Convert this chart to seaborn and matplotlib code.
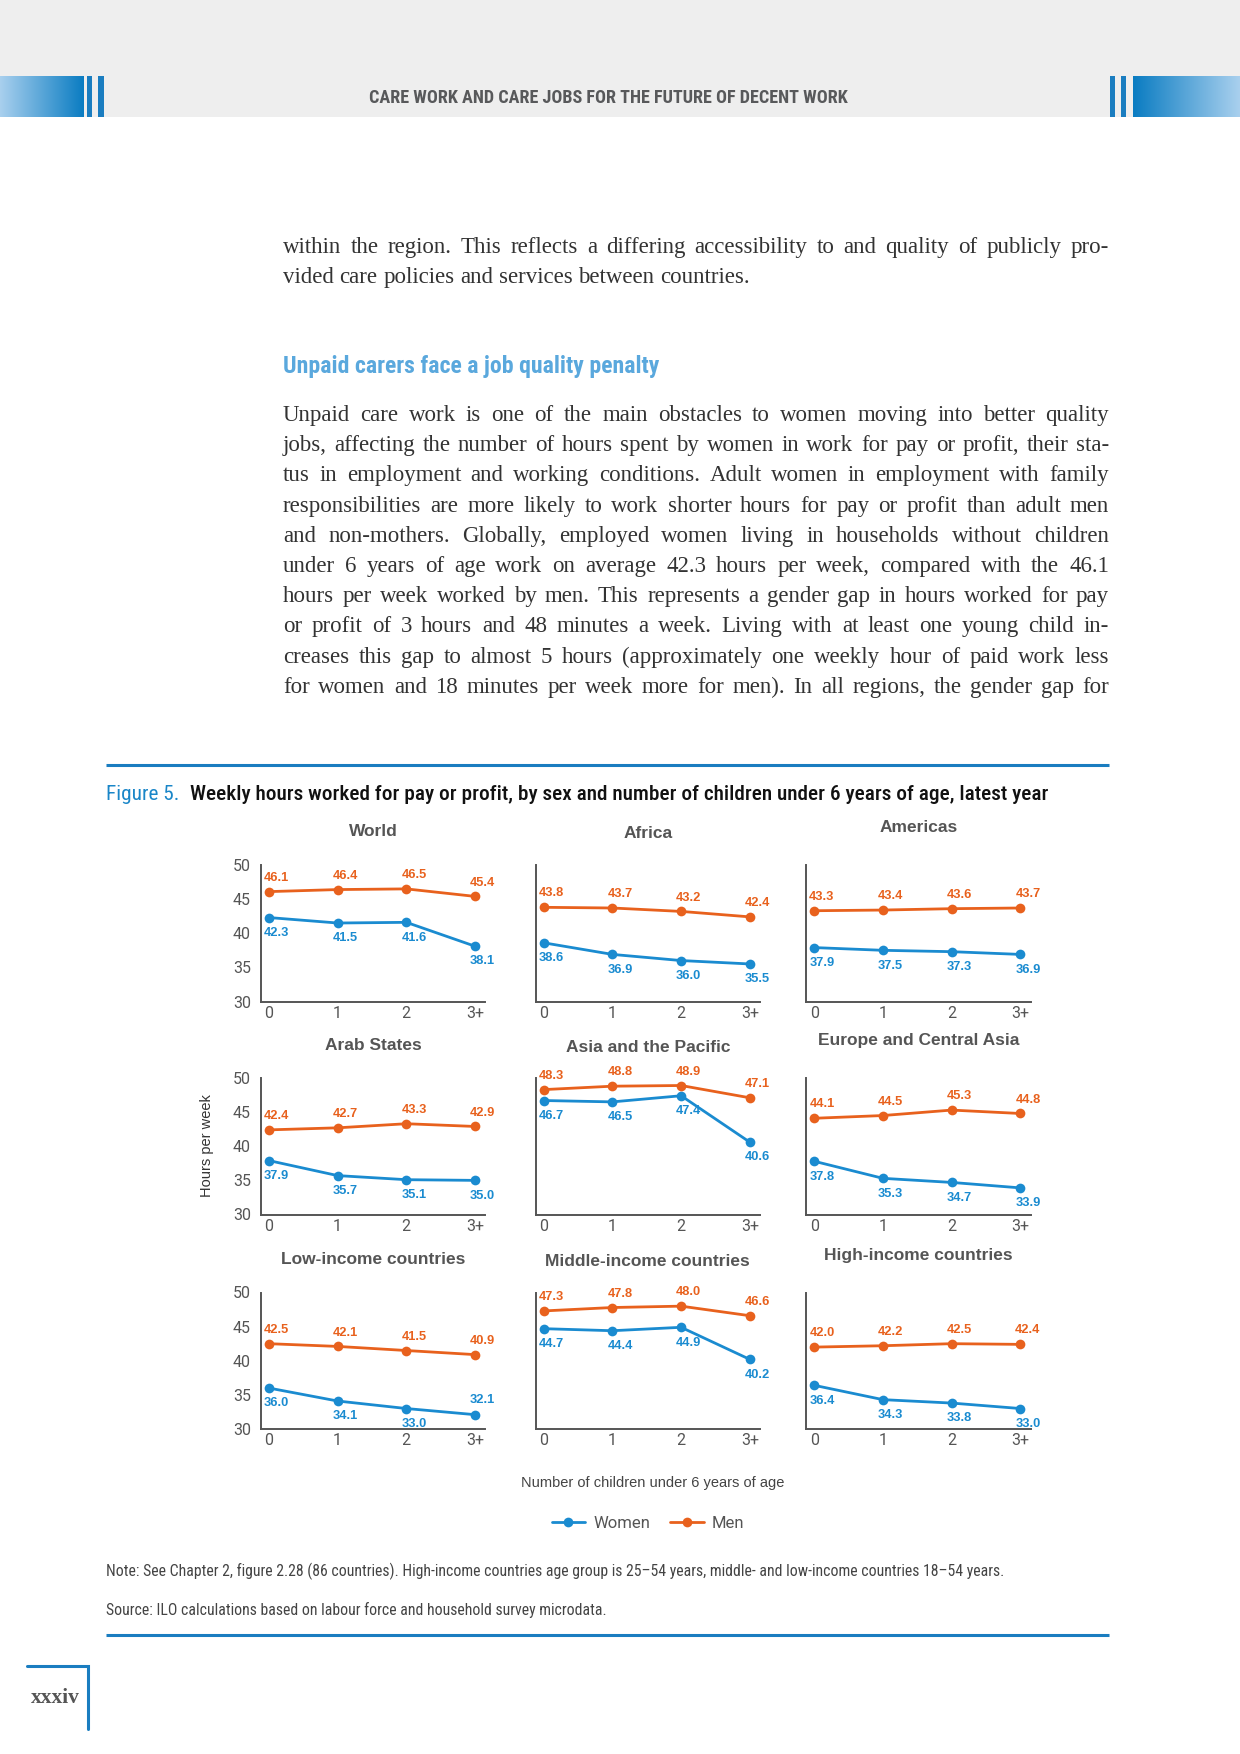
import matplotlib
matplotlib.use("Agg")
import numpy as np
import pandas as pd
import matplotlib.pyplot as plt
from matplotlib import font_manager
from matplotlib.colors import LinearSegmentedColormap
from matplotlib.lines import Line2D
import seaborn as sns

# --- chart data ---
children = ["0", "1", "2", "3+"]
regions = ["World", "Africa", "Americas",
           "Arab States", "Asia and the Pacific", "Europe and Central Asia",
           "Low-income countries", "Middle-income countries", "High-income countries"]
women_hours = [[42.3, 41.5, 41.6, 38.1],
               [38.6, 36.9, 36.0, 35.5],
               [37.9, 37.5, 37.3, 36.9],
               [37.9, 35.7, 35.1, 35.0],
               [46.7, 46.5, 47.4, 40.6],
               [37.8, 35.3, 34.7, 33.9],
               [36.0, 34.1, 33.0, 32.1],
               [44.7, 44.4, 44.9, 40.2],
               [36.4, 34.3, 33.8, 33.0]]
men_hours = [[46.1, 46.4, 46.5, 45.4],
             [43.8, 43.7, 43.2, 42.4],
             [43.3, 43.4, 43.6, 43.7],
             [42.4, 42.7, 43.3, 42.9],
             [48.3, 48.8, 48.9, 47.1],
             [44.1, 44.5, 45.3, 44.8],
             [42.5, 42.1, 41.5, 40.9],
             [47.3, 47.8, 48.0, 46.6],
             [42.0, 42.2, 42.5, 42.4]]
y_ticks = [30, 35, 40, 45, 50]

# --- page text ---
header = "CARE WORK AND CARE JOBS FOR THE FUTURE OF DECENT WORK"
para1 = ["within the region. This reflects a differing accessibility to and quality of publicly pro-",
         "vided care policies and services between countries."]
heading = "Unpaid carers face a job quality penalty"
para2 = ["Unpaid care work is one of the main obstacles to women moving into better quality",
         "jobs, affecting the number of hours spent by women in work for pay or profit, their sta-",
         "tus in employment and working conditions. Adult women in employment with family",
         "responsibilities are more likely to work shorter hours for pay or profit than adult men",
         "and non-mothers. Globally, employed women living in households without children",
         "under 6 years of age work on average 42.3 hours per week, compared with the 46.1",
         "hours per week worked by men. This represents a gender gap in hours worked for pay",
         "or profit of 3 hours and 48 minutes a week. Living with at least one young child in-",
         "creases this gap to almost 5 hours (approximately one weekly hour of paid work less",
         "for women and 18 minutes per week more for men). In all regions, the gender gap for"]
fig_label = "Figure 5."
fig_title = "Weekly hours worked for pay or profit, by sex and number of children under 6 years of age, latest year"
note = ("Note: See Chapter 2, figure 2.28 (86 countries). High-income countries age group is 25\u201354 years, "
        "middle- and low-income countries 18\u201354 years.")
source = "Source: ILO calculations based on labour force and household survey microdata."

# --- fonts ---
installed = {f.name for f in font_manager.fontManager.ttflist}


def pick(*names):
    for n in names:
        if n in installed:
            return n
    return "DejaVu Sans"


NARROW = pick("Liberation Sans Narrow", "Roboto Condensed", "DejaVu Sans Condensed", "Liberation Sans")
SANS = pick("Liberation Sans", "Roboto")
LIGHT = pick("Roboto", "Liberation Sans")
SERIF = pick("Liberation Serif", "DejaVu Serif")

BLUE = "#1a7dc0"
WOMEN = "#1a8bd0"
MEN = "#e8611d"
palette = {"Women": WOMEN, "Men": MEN}

sns.set_theme(style="white")
plt.rcParams["font.family"] = [SANS, "DejaVu Sans"]

W, H = 1240, 1754
fig = plt.figure(figsize=(W / 100, H / 100), dpi=100)
fig.patch.set_facecolor("white")

# page layer in pixel coords, y going down
page = fig.add_axes([0, 0, 1, 1])
page.axis("off")
renderer = fig.canvas.get_renderer()


def width_of(t):
    return t.get_window_extent(renderer).width


def fit_text(x, y, s, width, size=12, **kw):
    t = page.text(x, y, s, fontsize=size, **kw)
    t.set_fontsize(size * width / width_of(t))
    return t


def justify(line, baseline, x0=283, x1=1109, size=16.5, last=False):
    words = line.split()
    ts = [page.text(0, baseline, w, fontsize=size, family=SERIF, color="#333333", va="baseline")
          for w in words]
    widths = [width_of(t) for t in ts]
    gap = size * 100 / 72 * 0.25 if last else (x1 - x0 - sum(widths)) / (len(words) - 1)
    x = x0
    for t, w in zip(ts, widths):
        t.set_x(x)
        x += w + gap


# header band
page.add_patch(plt.Rectangle((0, 0), W, 117, color="#eeeeee", lw=0, zorder=0))
grad = np.linspace(0, 1, 256).reshape(1, -1)
cmap = LinearSegmentedColormap.from_list("hdr", ["#a9d0ee", "#0a7cc2"])
page.imshow(grad, extent=(0, 84, 117, 76), aspect="auto", cmap=cmap, zorder=2)
page.imshow(grad[:, ::-1], extent=(1133, W, 117, 76), aspect="auto", cmap=cmap, zorder=2)
for x0, x1 in [(87, 92), (98, 104), (1110, 1115), (1121, 1126)]:
    page.add_patch(plt.Rectangle((x0, 76), x1 - x0, 41, color=BLUE, lw=0, zorder=2))
fit_text(608, 98, header, 479, family=NARROW, weight="bold", color="#58595b",
         ha="center", va="center")

# body text
justify(para1[0], 253)
justify(para1[1], 283, last=True)
fit_text(283, 367, heading, 377, family=NARROW, weight="bold", color="#5aa8dd", va="center")
for k, line in enumerate(para2):
    justify(line, 421 + k * 30.2)

# figure frame and title
page.plot([106, 1109], [765, 765], color=BLUE, lw=2.2, solid_capstyle="butt")
page.plot([106, 1109], [1635, 1635], color=BLUE, lw=2.2, solid_capstyle="butt")
t1 = page.text(106, 794, fig_label, fontsize=12, family=NARROW, color="#1a86c8", va="center")
t2 = page.text(0, 794, fig_title, fontsize=12, family=NARROW, weight="medium", color="#111111",
               va="center")
scale = (939 - 11) / (width_of(t1) + width_of(t2))
t1.set_fontsize(12 * scale)
t2.set_fontsize(12 * scale)
t2.set_x(106 + width_of(t1) + 11)

# panels
COL_LEFT = [260.7, 535.5, 806]
ROW_TOP = [865, 1078, 1292.5]
TITLE_DY = [33, 31, 37]
AX_W, AX_H = 224.6, 136.5
for i, name in enumerate(regions):
    r, c = divmod(i, 3)
    left, top = COL_LEFT[c], ROW_TOP[r]
    ax = fig.add_axes([left / W, 1 - (top + AX_H) / H, AX_W / W, AX_H / H])
    df = pd.DataFrame({"children": children * 2,
                       "hours": women_hours[i] + men_hours[i],
                       "sex": ["Women"] * 4 + ["Men"] * 4})
    sns.lineplot(data=df, x="children", y="hours", hue="sex", palette=palette, sort=False,
                 marker="o", markersize=7, markeredgewidth=0, linewidth=2,
                 legend=False, ax=ax)
    ax.set_xlim(-0.12, 3.15)
    ax.set_ylim(30, 50)
    ax.set_yticks(y_ticks)
    ax.set_xlabel("")
    ax.set_ylabel("")
    ax.set_facecolor("none")
    ax.tick_params(length=0, labelsize=11.5, labelcolor="#555555")
    ax.tick_params(axis="x", pad=3)
    ax.tick_params(axis="y", pad=7, labelleft=(c == 0))
    for lab in ax.get_xticklabels() + ax.get_yticklabels():
        lab.set_family(LIGHT)
    ax.spines[["top", "right"]].set_visible(False)
    for s in ["left", "bottom"]:
        ax.spines[s].set_color("#555555")
        ax.spines[s].set_linewidth(1.4)
    for j, (w, m) in enumerate(zip(women_hours[i], men_hours[i])):
        ax.annotate(f"{m:.1f}", (j, m), xytext=(5.5, 10), textcoords="offset points",
                    ha="center", va="center", fontsize=9.3, weight="bold", color=MEN)
        dy = 10.5 if (name == "Low-income countries" and j == 3) else -11
        ax.annotate(f"{w:.1f}", (j, w), xytext=(5.5, dy), textcoords="offset points",
                    ha="center", va="center", fontsize=9.3, weight="bold", color=WOMEN)
    page.text(left + AX_W / 2, top - TITLE_DY[c], name, fontsize=12.5, weight="bold",
              color="#555555", ha="center", va="center")

page.text(207, 1146, "Hours per week", rotation=90, fontsize=10.5, color="#333333",
          ha="center", va="center")
page.text(653, 1483, "Number of children under 6 years of age", fontsize=10.5,
          color="#444444", ha="center", va="center")

handles = [Line2D([], [], color=WOMEN, marker="o", markersize=7, markeredgewidth=0, lw=2),
           Line2D([], [], color=MEN, marker="o", markersize=7, markeredgewidth=0, lw=2)]
leg = fig.legend(handles, ["Women", "Men"], loc="center", bbox_to_anchor=(648 / W, 1 - 1523 / H),
                 ncol=2, frameon=False, fontsize=12, handlelength=2, columnspacing=1.2,
                 handletextpad=0.5, labelcolor="#555555")
for t in leg.get_texts():
    t.set_family(LIGHT)

nt = fit_text(106, 1571, note, 900, family=NARROW, color="#444444", va="center")
page.text(106, 1610, source, fontsize=nt.get_fontsize(), family=NARROW, color="#444444", va="center")

# page number corner
page.plot([27, 88, 88], [1666, 1666, 1729], color=BLUE, lw=2.2, solid_joinstyle="miter")
fit_text(31, 1698, "xxxiv", 49, family=SERIF, weight="bold", color="#555555", va="center")

page.set_xlim(0, W)
page.set_ylim(H, 0)

fig.savefig("out.png", dpi=100)
